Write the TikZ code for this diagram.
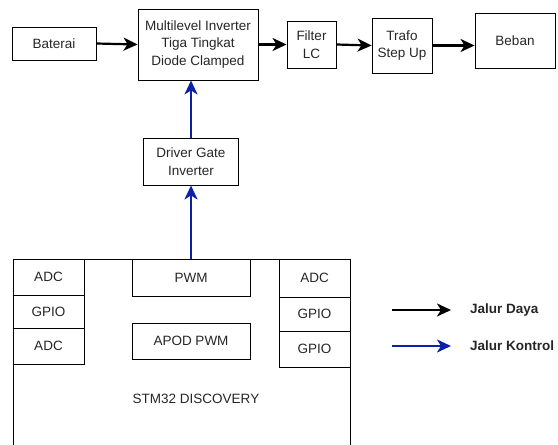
\documentclass[tikz,border=0pt]{standalone}
\usepackage{fontspec}
\setmainfont{Liberation Sans}
\usetikzlibrary{arrows.meta}
\definecolor{ctrlblue}{RGB}{12,32,168}
\definecolor{txtgray}{RGB}{38,38,38}
\begin{document}
\begin{tikzpicture}[x=1pt,y=-1pt,
  blk/.style={draw, line width=0.9pt, align=center, text=txtgray,
    font=\fontsize{13.5}{17.5}\selectfont, inner sep=0pt},
  lbl/.style={text=txtgray, font=\fontsize{13.5}{17.5}\selectfont, inner sep=0pt},
  leg/.style={text=txtgray, font=\bfseries\fontsize{13.5}{17.5}\selectfont, inner sep=0pt, anchor=west},
  power/.style={line width=2.2pt, -{Stealth[length=14pt,width=13pt,inset=4pt]}},
  control/.style={power, draw=ctrlblue}]
\useasboundingbox (0,0) rectangle (558,445);

% power stage
\node[blk, minimum width=84pt, minimum height=33pt] (bat) at (54,43.5) {Baterai};
\node[blk, minimum width=120pt, minimum height=71pt] (mli) at (198,44.5)
  {Multilevel Inverter\\Tiga Tingkat\\Diode Clamped};
\node[blk, minimum width=49pt, minimum height=47pt] (lc) at (311.5,44.5) {Filter\\LC};
\node[blk, minimum width=60pt, minimum height=55pt] (trafo) at (402,45.5) {Trafo\\Step Up};
\node[blk, minimum width=80pt, minimum height=55pt] (beban) at (515,40.5) {Beban};

% gate driver
\node[blk, minimum width=95pt, minimum height=47pt] (drv) at (191,161.5)
  {Driver Gate\\Inverter};

% controller board (runs past the lower edge)
\node[blk, minimum width=337pt, minimum height=191pt] (stm) at (181.5,354.5) {};
\node[lbl] (stmname) at (196,399) {STM32 DISCOVERY};

\node[blk, minimum width=71pt, minimum height=36pt] (adcA) at (48.5,277) {ADC};
\node[blk, minimum width=71pt, minimum height=33pt] (gpioA) at (48.5,311.5) {GPIO};
\node[blk, minimum width=71pt, minimum height=36pt] (adcB) at (48.5,346) {ADC};

\node[blk, minimum width=118pt, minimum height=37pt] (pwm) at (191,277.5) {PWM};
\node[blk, minimum width=118pt, minimum height=36pt] (apod) at (191,341) {APOD PWM};

\node[blk, minimum width=71pt, minimum height=38pt] (adcC) at (314.5,278) {ADC};
\node[blk, minimum width=71pt, minimum height=34pt] (gpioB) at (314.5,314) {GPIO};
\node[blk, minimum width=71pt, minimum height=36pt] (gpioC) at (314.5,349) {GPIO};

% power flow
\draw[power] (bat.east) -- (mli.west);
\draw[power] (mli.east) -- (lc.west);
\draw[power] (lc.east) -- (trafo.west);
\draw[power] (trafo.east) -- (trafo.east -| beban.west);

% control flow
\draw[control] (pwm.north) -- (drv.south);
\draw[control] (drv.north) -- (drv.north |- mli.south);

% legend
\coordinate (pa) at (392,310);
\coordinate (pb) at (451,310);
\coordinate (ca) at (392,346);
\coordinate (cb) at (451,346);
\draw[power] (pa) -- (pb);
\draw[control] (ca) -- (cb);
\node[leg] (pl) at (470,310) {Jalur Daya};
\node[leg] (cl) at (470,346) {Jalur Kontrol};
\end{tikzpicture}
\end{document}
